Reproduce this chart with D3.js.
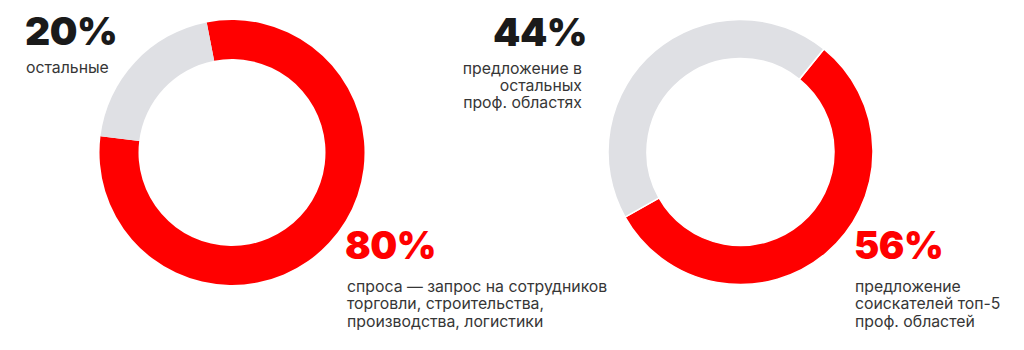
<!DOCTYPE html>
<html>
<head>
<meta charset="utf-8">
<script src="https://cdn.jsdelivr.net/npm/d3@7"></script>
<style>
  html, body { margin: 0; padding: 0; background: #ffffff; }
  svg { display: block; }
  .big { font-family: Inter, "Noto Sans", sans-serif; font-weight: 900; }
  .body { font-family: Inter, "Noto Sans", sans-serif; font-weight: 400; }
</style>
</head>
<body>
<script>
// ---- data ----
const segmentKeys = ["main", "rest"];
const leftValues = [80, 20];
const rightValues = [56, 44];
const leftPercentLabels = ["80%", "20%"];
const rightPercentLabels = ["56%", "44%"];
const leftMainText = ["спроса — запрос на сотрудников", "торговли, строительства,", "производства, логистики"];
const leftRestText = ["остальные"];
const rightMainText = ["предложение", "соискателей топ-5", "проф. областей"];
const rightRestText = ["предложение в", "остальных", "проф. областях"];

// ---- layout ----
const W = 1024, H = 350;
const RED = "#ff0000", GRAY = "#dfe0e4", DARK = "#1a1a1a", TEXT = "#363636";
const outerR = 132.5, innerR = 93.5;

const svg = d3.select("body").append("svg").attr("width", W).attr("height", H);

const color = d3.scaleOrdinal().domain(segmentKeys).range([RED, GRAY]);
const arc = d3.arc().innerRadius(innerR).outerRadius(outerR);

function donut(values, cx, cy, startDeg, sep) {
  const start = startDeg * Math.PI / 180;
  const pie = d3.pie().sort(null).value(d => d.v)
    .startAngle(start).endAngle(start + 2 * Math.PI);
  const data = values.map((v, i) => ({ key: segmentKeys[i], v }));
  const g = svg.append("g").attr("transform", `translate(${cx},${cy})`);
  g.selectAll("path").data(pie(data)).join("path")
    .attr("d", arc)
    .attr("fill", d => color(d.data.key))
    .attr("stroke", sep ? "#ffffff" : "none")
    .attr("stroke-width", sep ? 1.5 : 0);
}

donut(leftValues, 232, 152.5, -11, false);
donut(rightValues, 740.5, 152, 39, true);

function bigLabel(text, x, y, anchor, fill, size, weight) {
  svg.append("text").attr("class", "big")
    .attr("x", x).attr("y", y)
    .attr("text-anchor", anchor)
    .attr("fill", fill)
    .style("font-size", size + "px")
    .style("font-weight", weight)
    .style("letter-spacing", "-0.5px")
    .text(text);
}
function bodyLines(lines, x, y, anchor, lh) {
  const t = svg.append("text").attr("class", "body")
    .attr("x", x).attr("y", y)
    .attr("text-anchor", anchor)
    .attr("fill", TEXT)
    .style("font-size", "15.8px");
  t.selectAll("tspan").data(lines).join("tspan")
    .attr("x", x).attr("dy", (d, i) => i === 0 ? 0 : lh)
    .text(d => d);
}

// left donut labels
bigLabel(leftPercentLabels[1], 25, 45, "start", DARK, 39, 900);
bodyLines(leftRestText, 26, 73, "start", 17.5);
bigLabel(leftPercentLabels[0], 345, 258.5, "start", RED, 38, 900);
bodyLines(leftMainText, 347, 291.5, "start", 17.5);

// right donut labels
bigLabel(rightPercentLabels[1], 587, 45.5, "end", DARK, 39, 900);
bodyLines(rightRestText, 582, 73.5, "end", 17);
bigLabel(rightPercentLabels[0], 854, 258.5, "start", RED, 38, 900);
bodyLines(rightMainText, 855, 291.5, "start", 17.5);
</script>
</body>
</html>
